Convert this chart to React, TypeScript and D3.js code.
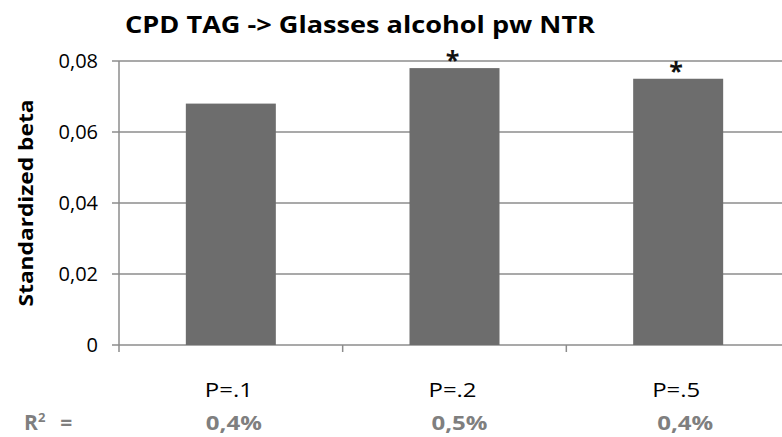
import React from "react";
import * as d3 from "d3";

const categories = ["P=.1", "P=.2", "P=.5"];
const betaValues = [0.068, 0.078, 0.075];
const significant = [false, true, true];
const r2Labels = ["0,4%", "0,5%", "0,4%"];
const yTicks = [0, 0.02, 0.04, 0.06, 0.08];

const W = 782;
const H = 437;
const FONT = "'Open Sans', Lato, sans-serif";

export default function App() {
  const x = d3.scaleBand<string>().domain(categories).range([119, 790]).paddingInner(0).paddingOuter(0);
  const y = d3.scaleLinear().domain([0, 0.08]).range([345, 61]);
  const bw = 90;
  const fmt = (v: number) => (v === 0 ? "0" : d3.format(".2f")(v).replace(".", ","));
  const boundaries = categories.map((c) => x(c) as number);

  return (
    <svg width={W} height={H} style={{ position: "absolute", left: 0, top: 0, background: "#fff" }}>
      <rect width={W} height={H} fill="#fff" />
      <text x={125} y={33} fontFamily={FONT} fontWeight="bold" fontSize={23} fill="#000" textLength={470} lengthAdjust="spacingAndGlyphs">
        CPD TAG -&gt; Glasses alcohol pw NTR
      </text>
      {yTicks.map((t) => (
        <g key={t}>
          <line x1={112} x2={W} y1={y(t)} y2={y(t)} stroke="#8c8c8c" strokeWidth={1.5} />
          <text x={98} y={y(t) + 7} textAnchor="end" fontFamily={FONT} fontSize={20} fill="#000">
            {fmt(t)}
          </text>
        </g>
      ))}
      <line x1={119} x2={119} y1={61} y2={352} stroke="#8c8c8c" strokeWidth={1.5} />
      {boundaries.slice(1).map((b, i) => (
        <line key={i} x1={b} x2={b} y1={345} y2={352} stroke="#8c8c8c" strokeWidth={1.5} />
      ))}
      {categories.map((c, i) => {
        const cx = (x(c) as number) + x.bandwidth() / 2;
        return (
          <g key={c}>
            <rect x={cx - bw / 2} y={y(betaValues[i])} width={bw} height={y(0) - y(betaValues[i])} fill="#6d6d6d" />
            {significant[i] && (
              <text x={cx - 2} y={y(betaValues[i]) + 1} textAnchor="middle" fontFamily={FONT} fontWeight="bold" fontSize={25} fill="#111">
                *
              </text>
            )}
            <text x={cx - 2} y={397} textAnchor="middle" fontFamily={FONT} fontSize={20} fill="#000" textLength={48} lengthAdjust="spacingAndGlyphs">
              {c}
            </text>
            <text x={cx + 3 + i * 2} y={430} textAnchor="middle" fontFamily={FONT} fontWeight="bold" fontSize={20} fill="#7f7f7f" textLength={56} lengthAdjust="spacingAndGlyphs">
              {r2Labels[i]}
            </text>
          </g>
        );
      })}
      <text x={24} y={430} fontFamily={FONT} fontWeight="bold" fontSize={21} fill="#7f7f7f">
        R<tspan dy={-8} fontSize={13}>2</tspan>
        <tspan dy={8} dx={15}>=</tspan>
      </text>
      <text
        transform={`translate(33,${203}) rotate(-90)`}
        textAnchor="middle"
        fontFamily={FONT}
        fontWeight="bold"
        fontSize={20}
        fill="#000"
        textLength={207}
        lengthAdjust="spacingAndGlyphs"
      >
        Standardized beta
      </text>
    </svg>
  );
}
